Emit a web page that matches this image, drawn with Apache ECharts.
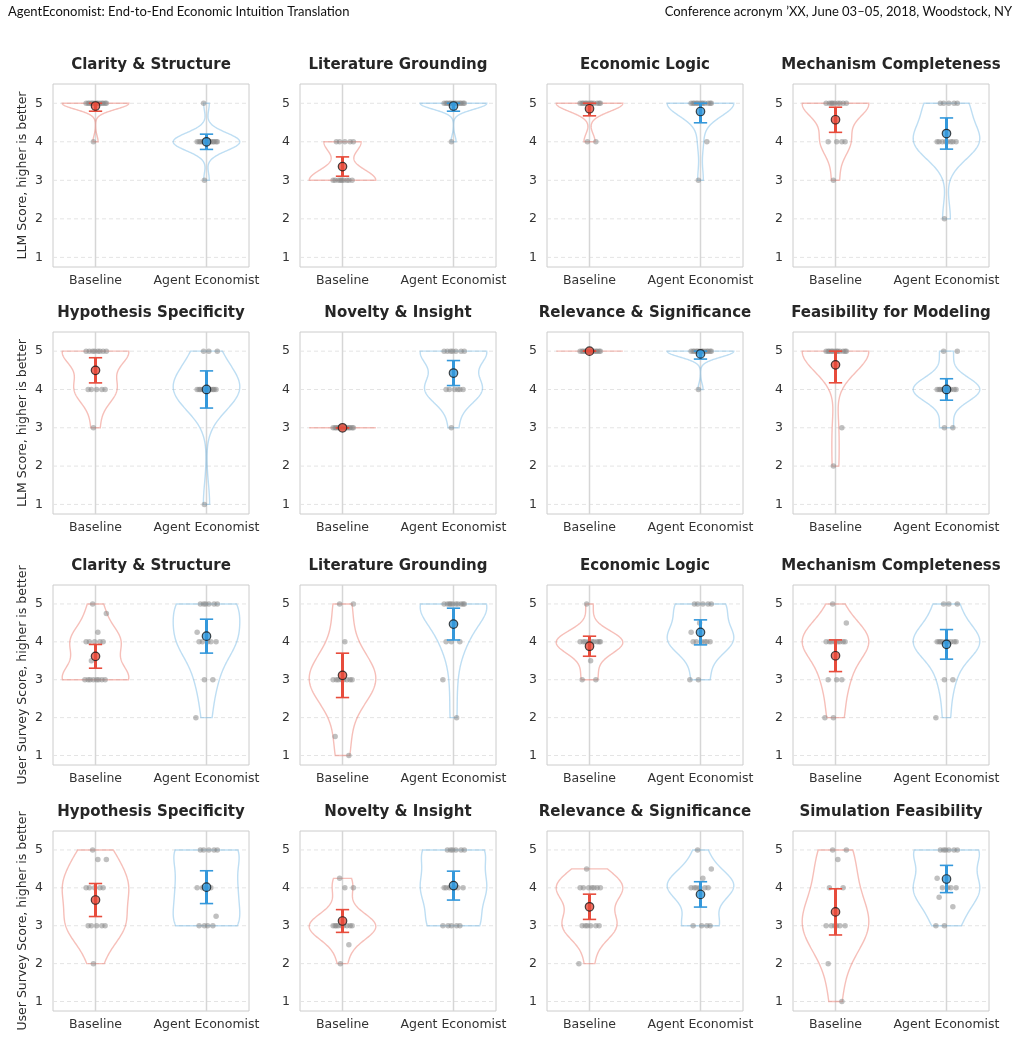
<!DOCTYPE html>
<html>
<head>
<meta charset="utf-8">
<title>AgentEconomist score violins</title>
<script src="https://cdn.jsdelivr.net/npm/echarts@6/dist/echarts.min.js"></script>
<style>
    html, body {
        margin: 0;
        padding: 0;
        background: #ffffff;
    }

    #main {
        width: 1021px;
        height: 1039px;
    }
</style>
</head>
<body>
<div id="main"></div>
<script>
    // groups on the x axis, and y tick values
    var groups = ['Baseline', 'Agent Economist'];
    var yTicks = [1, 2, 3, 4, 5];

    var rowLabels = ['LLM Score, higher is better', 'LLM Score, higher is better',
        'User Survey Score, higher is better', 'User Survey Score, higher is better'];

    var llmTitles = ['Clarity & Structure', 'Literature Grounding', 'Economic Logic', 'Mechanism Completeness',
        'Hypothesis Specificity', 'Novelty & Insight', 'Relevance & Significance', 'Feasibility for Modeling'];
    var surveyTitles = ['Clarity & Structure', 'Literature Grounding', 'Economic Logic', 'Mechanism Completeness',
        'Hypothesis Specificity', 'Novelty & Insight', 'Relevance & Significance', 'Simulation Feasibility'];

    // LLM judge scores (one value per paper)
    var llmBaseline = [
        [5, 5, 5, 5, 5, 5, 5, 5, 5, 5, 5, 5, 5, 4],
        [4, 4, 4, 4, 4, 3, 3, 3, 3, 3, 3, 3, 3, 3],
        [5, 5, 5, 5, 5, 5, 5, 5, 5, 5, 5, 5, 4, 4],
        [5, 5, 5, 5, 5, 5, 5, 5, 5, 4, 4, 4, 4, 3],
        [5, 5, 5, 5, 5, 5, 5, 5, 4, 4, 4, 4, 4, 3],
        [3, 3, 3, 3, 3, 3, 3, 3, 3, 3, 3, 3, 3, 3],
        [5, 5, 5, 5, 5, 5, 5, 5, 5, 5, 5, 5, 5, 5],
        [5, 5, 5, 5, 5, 5, 5, 5, 5, 5, 5, 5, 3, 2]
    ];
    var llmAgent = [
        [5, 4, 4, 4, 4, 4, 4, 4, 4, 4, 4, 4, 4, 3],
        [5, 5, 5, 5, 5, 5, 5, 5, 5, 5, 5, 5, 5, 4],
        [5, 5, 5, 5, 5, 5, 5, 5, 5, 5, 5, 5, 4, 3],
        [5, 5, 5, 5, 5, 4, 4, 4, 4, 4, 4, 4, 4, 2],
        [5, 5, 5, 4, 4, 4, 4, 4, 4, 4, 4, 4, 4, 1],
        [5, 5, 5, 5, 5, 5, 5, 4, 4, 4, 4, 4, 4, 3],
        [5, 5, 5, 5, 5, 5, 5, 5, 5, 5, 5, 5, 5, 4],
        [5, 5, 4, 4, 4, 4, 4, 4, 4, 4, 4, 4, 3, 3]
    ];

    // user survey scores
    var surveyBaseline = [
        [5, 4.75, 4.25, 4, 4, 4, 4, 4, 3.5, 3, 3, 3, 3, 3, 3, 3, 3],
        [5, 5, 4, 3, 3, 3, 3, 3, 3, 3, 3, 1.5, 1],
        [5, 4, 4, 4, 4, 4, 4, 4, 4, 4, 3.5, 3, 3],
        [5, 4.5, 4, 4, 4, 4, 4, 4, 4, 4, 3, 3, 3, 2, 2],
        [5, 4.75, 4.75, 4, 4, 4, 4, 4, 3, 3, 3, 3, 3, 2],
        [4.25, 4, 4, 3, 3, 3, 3, 3, 3, 3, 3, 3, 2.5, 2],
        [4.5, 4, 4, 4, 4, 4, 4, 4, 3, 3, 3, 3, 3, 3, 2],
        [5, 5, 4.75, 4, 4, 3, 3, 3, 3, 3, 3, 2, 1]
    ];
    var surveyAgent = [
        [5, 5, 5, 5, 5, 5, 4.25, 4, 4, 4, 4, 4, 3, 3, 2],
        [5, 5, 5, 5, 5, 5, 5, 5, 5, 5, 4.5, 4, 4, 4, 3, 2],
        [5, 5, 5, 5, 5, 4.5, 4.25, 4, 4, 4, 4, 4, 4, 3, 3],
        [5, 5, 5, 4, 4, 4, 4, 4, 4, 4, 4, 4, 3, 3, 2],
        [5, 5, 5, 5, 5, 4, 4, 4, 4, 3.25, 3, 3, 3, 3],
        [5, 5, 5, 5, 5, 5, 4, 4, 4, 4, 4, 4, 3, 3, 3, 3, 3],
        [5, 4.5, 4.25, 4, 4, 4, 4, 4, 4, 3, 3, 3, 3],
        [5, 5, 5, 5, 5, 5, 4.25, 4, 4, 4, 4, 3.75, 3.5, 3, 3]
    ];

    var mainColors = ['#e74c3c', '#3498db'];
    var violinColors = ['rgba(236,112,99,0.45)', 'rgba(93,173,226,0.40)'];

    var colLeft = [53, 300, 547, 793];
    var rowTop = [84, 332, 585, 831];
    var rowHeight = [183, 182, 180, 180];
    var panelWidth = 196;
    var xMin = -0.383, xMax = 1.383, yMin = 0.75, yMax = 5.5;
    var halfWidth = 0.3;

    function mean(a) {
        var s = 0;
        a.forEach(function (v) { s += v; });
        return s / a.length;
    }

    function sdOf(a, ddof) {
        var m = mean(a), s = 0;
        a.forEach(function (v) { s += (v - m) * (v - m); });
        return Math.sqrt(s / (a.length - ddof));
    }

    // 95% interval of the mean, kept inside the observed range
    function meanInterval(a) {
        var m = mean(a);
        var h = 1.96 * sdOf(a, 0) / Math.sqrt(a.length);
        return [Math.max(Math.min.apply(null, a), m - h), Math.min(Math.max.apply(null, a), m + h)];
    }

    // gaussian kde, scott bandwidth, cut at data range
    function kdeProfile(a) {
        var lo = Math.min.apply(null, a), hi = Math.max.apply(null, a);
        var s = sdOf(a, 1);
        if (s === 0 || lo === hi) {
            return {flat: true, v: lo};
        }
        var bw = s * Math.pow(a.length, -0.2);
        var ys = [], ws = [], top = 0;
        for (var i = 0; i <= 120; i++) {
            var y = lo + (hi - lo) * i / 120, d = 0;
            a.forEach(function (x) {
                var z = (y - x) / bw;
                d += Math.exp(-0.5 * z * z);
            });
            ys.push(y);
            ws.push(d);
            if (d > top) top = d;
        }
        return {flat: false, y: ys, w: ws.map(function (d) { return d / top; })};
    }

    function jitter(i) {
        return (((i * 0.618034 + 0.37) % 1) - 0.5) * 0.2;
    }

    function backgroundRender(params, api) {
        var kids = [];
        yTicks.forEach(function (t) {
            var a = api.coord([xMin, t]), b = api.coord([xMax, t]);
            kids.push({
                type: 'line', shape: {x1: a[0], y1: a[1], x2: b[0], y2: b[1]},
                style: {stroke: '#e4e4e4', lineWidth: 1, lineDash: [4, 3]}
            });
        });
        [0, 1].forEach(function (g) {
            var a = api.coord([g, yMin]), b = api.coord([g, yMax]);
            kids.push({
                type: 'line', shape: {x1: a[0], y1: a[1], x2: b[0], y2: b[1]},
                style: {stroke: '#d6d6d6', lineWidth: 1.5}
            });
        });
        return {type: 'group', children: kids};
    }

    function makeViolinRender(sets) {
        var profiles = sets.map(kdeProfile);
        return function (params, api) {
            var g = params.dataIndex;
            var p = profiles[g];
            var style = {fill: 'none', stroke: violinColors[g], lineWidth: 1.4};
            if (p.flat) {
                var a = api.coord([g - halfWidth, p.v]), b = api.coord([g + halfWidth, p.v]);
                return {type: 'line', shape: {x1: a[0], y1: a[1], x2: b[0], y2: b[1]}, style: style};
            }
            var pts = [], i;
            for (i = 0; i < p.y.length; i++) pts.push(api.coord([g + p.w[i] * halfWidth, p.y[i]]));
            for (i = p.y.length - 1; i >= 0; i--) pts.push(api.coord([g - p.w[i] * halfWidth, p.y[i]]));
            return {type: 'polygon', shape: {points: pts}, style: style};
        };
    }

    function errorRender(params, api) {
        var g = api.value(0), lo = api.value(1), hi = api.value(2);
        var c = mainColors[g];
        var a = api.coord([g, lo]), b = api.coord([g, hi]);
        var l1 = api.coord([g - 0.06, lo]), l2 = api.coord([g + 0.06, lo]);
        var h1 = api.coord([g - 0.06, hi]), h2 = api.coord([g + 0.06, hi]);
        return {
            type: 'group', children: [
                {type: 'line', shape: {x1: a[0], y1: a[1], x2: b[0], y2: b[1]}, style: {stroke: c, lineWidth: 3}},
                {type: 'line', shape: {x1: l1[0], y1: l1[1], x2: l2[0], y2: l2[1]}, style: {stroke: c, lineWidth: 1.6}},
                {type: 'line', shape: {x1: h1[0], y1: h1[1], x2: h2[0], y2: h2[1]}, style: {stroke: c, lineWidth: 1.6}}
            ]
        };
    }

    var grids = [], xAxes = [], yAxes = [], series = [], graphics = [];
    var font = 'DejaVu Sans';

    for (var r = 0; r < 4; r++) {
        for (var c = 0; c < 4; c++) {
            var k = r * 4 + c;
            var idx = (r % 2) * 4 + c;
            var title = r < 2 ? llmTitles[idx] : surveyTitles[idx];
            var sets = r < 2 ? [llmBaseline[idx], llmAgent[idx]] : [surveyBaseline[idx], surveyAgent[idx]];

            grids.push({
                left: colLeft[c], top: rowTop[r], width: panelWidth, height: rowHeight[r],
                show: true, borderColor: '#cccccc', borderWidth: 1, backgroundColor: 'transparent'
            });
            xAxes.push({
                gridIndex: k, type: 'value', min: xMin, max: xMax,
                axisLine: {show: false}, axisTick: {show: false}, splitLine: {show: false},
                axisLabel: {
                    customValues: [0, 1], margin: 7, fontFamily: font, fontSize: 12.5, color: '#333333',
                    formatter: function (v) { return groups[Math.round(v)]; }
                }
            });
            yAxes.push({
                gridIndex: k, type: 'value', min: yMin, max: yMax,
                axisLine: {show: false}, axisTick: {show: false}, splitLine: {show: false},
                axisLabel: {customValues: yTicks, margin: 10, fontFamily: font, fontSize: 12.5, color: '#333333'},
                name: c === 0 ? rowLabels[r] : '', nameLocation: 'middle', nameGap: 24, nameRotate: 90,
                nameTextStyle: {fontFamily: font, fontSize: 12.5, color: '#2a2a2a'}
            });

            series.push({
                type: 'custom', xAxisIndex: k, yAxisIndex: k, z: 1, silent: true,
                renderItem: backgroundRender, data: [[0, 3]]
            });
            series.push({
                type: 'custom', xAxisIndex: k, yAxisIndex: k, z: 2, silent: true,
                renderItem: makeViolinRender(sets), data: [[0, 3], [1, 3]]
            });

            var pts = [];
            sets.forEach(function (vals, g) {
                vals.forEach(function (v, i) { pts.push([g + jitter(i), v]); });
            });
            series.push({
                type: 'scatter', xAxisIndex: k, yAxisIndex: k, z: 3, silent: true,
                symbolSize: 5.5, itemStyle: {color: 'rgba(135,135,135,0.65)'}, data: pts
            });

            series.push({
                type: 'custom', xAxisIndex: k, yAxisIndex: k, z: 4, silent: true,
                renderItem: errorRender,
                data: sets.map(function (vals, g) {
                    var ci = meanInterval(vals);
                    return [g, ci[0], ci[1]];
                })
            });
            series.push({
                type: 'scatter', xAxisIndex: k, yAxisIndex: k, z: 5, silent: true, symbolSize: 8.5,
                data: sets.map(function (vals, g) {
                    return {
                        value: [g, mean(vals)],
                        itemStyle: {color: mainColors[g], borderColor: '#1a1a1a', borderWidth: 1.2}
                    };
                })
            });

            graphics.push({
                type: 'text', x: colLeft[c] + panelWidth / 2, y: rowTop[r] - 19,
                style: {
                    text: title, font: 'bold 15px "DejaVu Sans"', fill: '#262626',
                    align: 'center', verticalAlign: 'middle', textAlign: 'center', textVerticalAlign: 'middle'
                }
            });
        }
    }

    graphics.push({
        type: 'text', x: 8, y: 12,
        style: {
            text: 'AgentEconomist: End-to-End Economic Intuition Translation',
            font: '13px Lato, "Liberation Sans"', fill: '#111111',
            align: 'left', verticalAlign: 'middle', textAlign: 'left', textVerticalAlign: 'middle'
        }
    });
    graphics.push({
        type: 'text', x: 1012, y: 12,
        style: {
            text: 'Conference acronym \u2019XX, June 03\u201305, 2018, Woodstock, NY',
            font: '13px Lato, "Liberation Sans"', fill: '#111111',
            align: 'right', verticalAlign: 'middle', textAlign: 'right', textVerticalAlign: 'middle'
        }
    });

    var myChart = echarts.init(document.getElementById('main'));
    myChart.setOption({
        animation: false,
        backgroundColor: '#ffffff',
        grid: grids,
        xAxis: xAxes,
        yAxis: yAxes,
        series: series,
        graphic: graphics
    });
</script>
</body>
</html>
